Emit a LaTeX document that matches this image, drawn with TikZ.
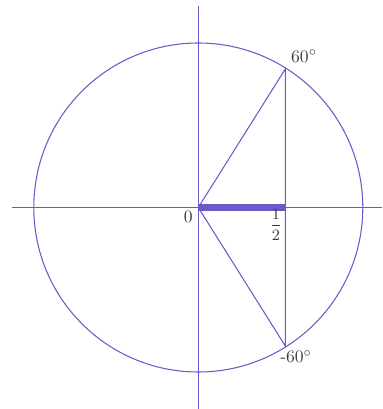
\documentclass[tikz,border=0pt]{standalone}
\usepackage{amsmath, amssymb}
\definecolor{unitblue}{RGB}{106,90,200}
\definecolor{labelgray}{RGB}{60,60,60}

\begin{document}
\begin{tikzpicture}[scale=0.02]
    % picture frame, sizes in pixels of the reference
    \useasboundingbox (-198.3,-201.5) rectangle (183.7,207.5);
    \tikzset{curve/.style={unitblue, line width=0.6pt},
             lbl/.style={text=labelgray, inner sep=0pt}}

    % Points on the circle
    \coordinate (O) at (0,0);
    \coordinate (P) at (87,138.5);
    \coordinate (Q) at (87,-138.5);
    \coordinate (H) at (87,0);
    \coordinate (xl) at (-186.6,0);
    \coordinate (xr) at (183.7,0);
    \coordinate (yt) at (0,201.5);
    \coordinate (yb) at (0,-201.5);

    % Axes and unit circle
    \draw[curve] (xl) -- (xr);
    \draw[curve] (yt) -- (yb);
    \draw[curve] (O) circle (164.5);

    % Radii and chord
    \draw[curve] (O) -- (P) -- (Q) -- cycle;
    \draw[unitblue, line width=4pt] (O) -- (H);

    % Labels
    \node[lbl] (zero) at (-10,-9.5) {0};
    \node[lbl, font=\small] (half) at (77.7,-17) {$\dfrac{1}{2}$};
    \node[lbl] (top) at (105.7,151.5) {$60^\circ$};
    \node[lbl] (bot) at (97.7,-149.2) {-$60^\circ$};
\end{tikzpicture}
\end{document}
